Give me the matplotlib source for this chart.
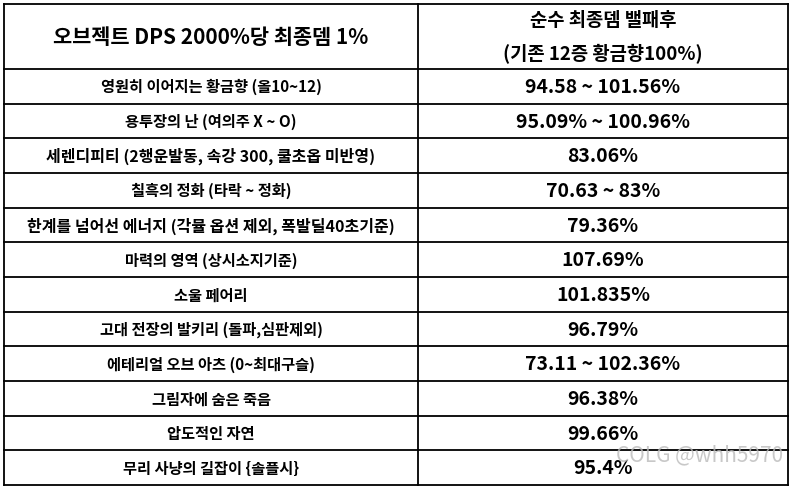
import matplotlib
matplotlib.use("Agg")
import matplotlib.pyplot as plt

plt.rcParams['font.family'] = ['Noto Sans CJK KR', 'DejaVu Sans']

header_left = "오브젝트 DPS 2000%당 최종뎀 1%"
header_right = ["순수 최종뎀 밸패후", "(기존 12증 황금향100%)"]
items = ["영원히 이어지는 황금향 (올10~12)", "용투장의 난 (여의주 X ~ O)",
         "세렌디피티 (2행운발동, 속강 300, 쿨초옵 미반영)", "칠흑의 정화 (타락 ~ 정화)",
         "한계를 넘어선 에너지 (각뮬 옵션 제외, 폭발딜40초기준)", "마력의 영역 (상시소지기준)",
         "소울 페어리", "고대 전장의 발키리 (돌파,심판제외)", "에테리얼 오브 아츠 (0~최대구슬)",
         "그림자에 숨은 죽음", "압도적인 자연", "무리 사냥의 길잡이 {솔플시}"]
values = ["94.58 ~ 101.56%", "95.09% ~ 100.96%", "83.06%", "70.63 ~ 83%", "79.36%",
          "107.69%", "101.835%", "96.79%", "73.11 ~ 102.36%", "96.38%", "99.66%", "95.4%"]

W, H = 793, 489
fig = plt.figure(figsize=(W/100, H/100), dpi=100)
ax = fig.add_axes([0, 0, 1, 1])
ax.set_xlim(0, W); ax.set_ylim(H, 0); ax.axis('off')

L, M, R = 4, 418, 788
top, hb, bot = 5, 70, 486
n = len(items)
rh = (bot - hb) / n
lw = 1.3
for y in [top, hb] + [hb + rh*(i+1) for i in range(n)]:
    ax.plot([L, R], [y, y], color='black', lw=lw)
for x in [L, M, R]:
    ax.plot([x, x], [top, bot], color='black', lw=lw)

ax.text((L+M)/2, (top+hb)/2, header_left, ha='center', va='center', fontsize=15, fontweight='bold')
ax.text((M+R)/2, top+16, header_right[0], ha='center', va='center', fontsize=13.5, fontweight='bold')
ax.text((M+R)/2, top+49, header_right[1], ha='center', va='center', fontsize=13.5, fontweight='bold')
for i, (a, b) in enumerate(zip(items, values)):
    yc = hb + rh*(i+0.5)
    ax.text((L+M)/2, yc, a, ha='center', va='center', fontsize=11 if len(a) < 28 else 11.5, fontweight='bold')
    ax.text((M+R)/2, yc, b, ha='center', va='center', fontsize=14, fontweight='bold')

ax.text(700, 455, "COLG @whh5970", ha='center', va='center', fontsize=15, color='#bbbbbb', alpha=0.8)
fig.savefig("out.png", dpi=100)
